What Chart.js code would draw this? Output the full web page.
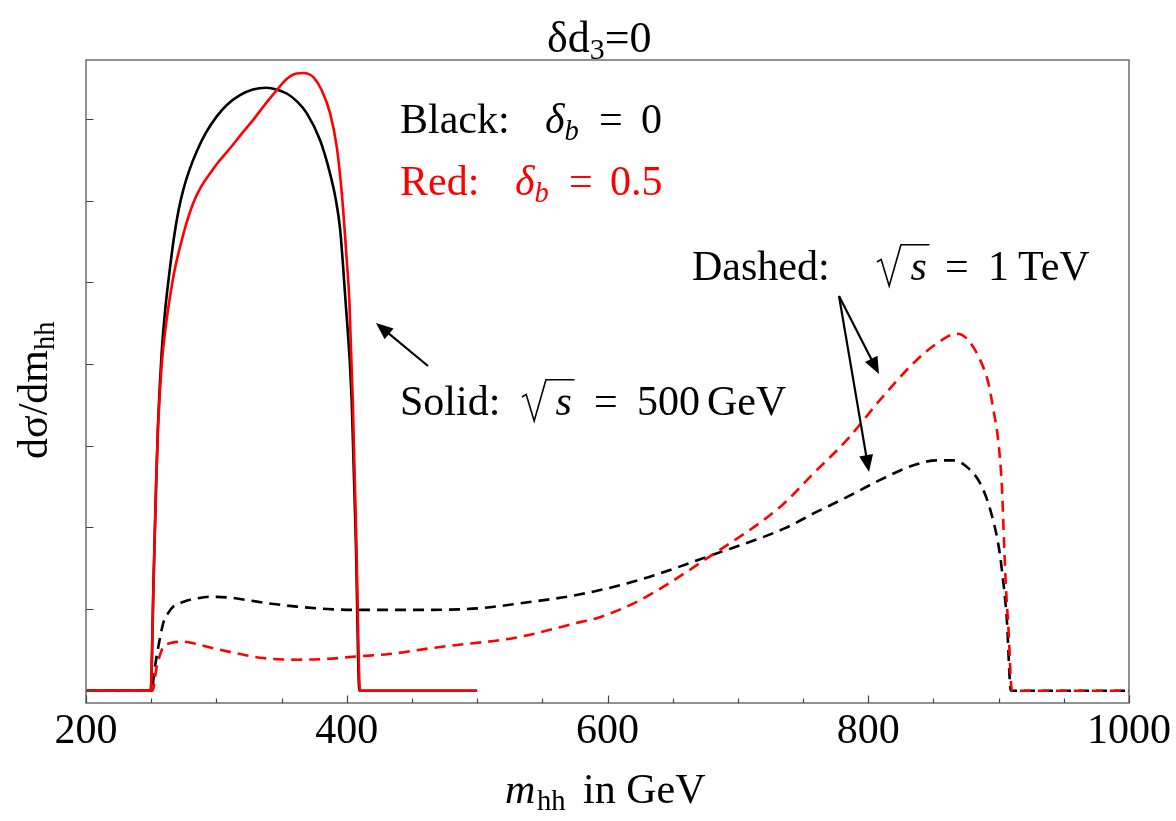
<!DOCTYPE html>
<html>
<head>
<meta charset="utf-8">
<script src="https://cdn.jsdelivr.net/npm/chart.js@4.4.1/dist/chart.umd.min.js"></script>
<style>
  html, body { margin: 0; padding: 0; background: #ffffff; }
  canvas { display: block; }
</style>
</head>
<body>
<canvas id="c" width="1176" height="821"></canvas>
<script>
// m_hh in GeV and dσ/dm_hh (arbitrary units) for each curve

// sqrt(s) = 500 GeV, δb = 0
const blackSolidM = [200, 249.6, 251.8, 253.7, 255.2, 258.1, 261, 264, 267.5, 271, 274.6, 279, 284.9, 292, 300.3, 308, 318.1, 328, 338.6, 346, 354, 362, 369.3, 379.5, 387.2, 391.5, 394.9, 398.7, 403.8, 407, 409.7, 450, 500];
const blackSolidV = [0, 0, 1.35, 2.5, 3.25, 4.15, 4.7, 5.12, 5.55, 5.88, 6.13, 6.36, 6.6, 6.83, 7.03, 7.17, 7.29, 7.36, 7.38, 7.36, 7.31, 7.21, 7.07, 6.74, 6.33, 6.02, 5.65, 4.85, 3.56, 1.8, 0, 0, 0];

// sqrt(s) = 500 GeV, δb = 0.5
const redSolidM = [200, 249.6, 251.8, 253.7, 255.2, 258.1, 261.5, 264.4, 268, 272.1, 277, 282.3, 288, 295.1, 302, 310.5, 319, 328.4, 337, 346.3, 351.5, 356.5, 361.5, 366.7, 370.5, 374.4, 380.8, 387.2, 392.3, 396.2, 400, 402, 404.6, 407.4, 410.2, 450, 500];
const redSolidV = [0, 0, 1.3, 2.45, 3.2, 4.0, 4.5, 4.82, 5.15, 5.43, 5.72, 5.97, 6.16, 6.33, 6.48, 6.64, 6.81, 6.99, 7.17, 7.35, 7.45, 7.52, 7.555, 7.56, 7.55, 7.51, 7.35, 7.07, 6.66, 6.09, 5.27, 4.78, 3.56, 1.8, 0, 0, 0];

// sqrt(s) = 1 TeV, δb = 0
const blackDashedM = [200, 250.4, 252.5, 255.5, 259.3, 263, 267, 275, 284.9, 295.1, 310, 323.3, 340, 361.6, 385, 407.6, 433, 463.9, 502, 533, 579, 625, 680, 736.2, 758, 783.6, 809.1, 834.7, 852.6, 865.4, 875.6, 885.8, 893.5, 899.9, 902.5, 906.3, 909.4, 950, 1000];
const blackDashedV = [0, 0, 0.25, 0.54, 0.83, 0.95, 1.03, 1.09, 1.13, 1.15, 1.14, 1.11, 1.07, 1.03, 1.0, 0.99, 0.99, 0.99, 1.01, 1.07, 1.18, 1.36, 1.66, 1.99, 2.17, 2.37, 2.58, 2.76, 2.82, 2.82, 2.74, 2.54, 2.22, 1.78, 1.48, 0.87, 0, 0, 0];

// sqrt(s) = 1 TeV, δb = 0.5
const redDashedM = [200, 251, 254.2, 257, 259.3, 264, 274.6, 285, 297.7, 315, 336, 361.6, 385, 407.6, 433, 463.9, 479, 517.6, 533, 579, 594, 625, 680, 732.4, 758, 783.6, 809.1, 834.7, 852.6, 867.9, 875.6, 885.8, 892.2, 896, 899.9, 902.5, 904.3, 905.5, 907.6, 910.2, 950, 1000];
const redDashedV = [0, 0, 0.29, 0.45, 0.54, 0.58, 0.6, 0.57, 0.52, 0.46, 0.40, 0.38, 0.39, 0.42, 0.45, 0.52, 0.55, 0.62, 0.66, 0.84, 0.9, 1.11, 1.66, 2.25, 2.66, 3.07, 3.56, 4.01, 4.25, 4.37, 4.31, 4.05, 3.76, 3.44, 3.03, 2.5, 1.76, 1.3, 0.74, 0, 0, 0];

// axis ticks
const xTickValues = [200, 400, 600, 800, 1000];
const yTickValues = [0, 1, 2, 3, 4, 5, 6, 7];

const SERIF = '"Liberation Serif", "Times New Roman", serif';

function pts(ms, vs) { return ms.map((m, i) => ({ x: m, y: vs[i] })); }

function lineSet(ms, vs, color, dashed, offset) {
  return {
    data: pts(ms, vs),
    borderColor: color,
    borderWidth: 2.6,
    borderDash: dashed ? [11, 7] : [],
    borderDashOffset: offset || 0,
    pointRadius: 0,
    fill: false,
    cubicInterpolationMode: 'monotone',
    borderCapStyle: 'butt',
    borderJoinStyle: 'round'
  };
}

// draws a sequence of text runs; each run may be italic, subscripted, or a square root
function drawRuns(ctx, x0, y0, size, runs, color) {
  let x = x0;
  for (const r of runs) {
    if (r.x !== undefined) x = r.x;
    const fs = r.sub ? size * 0.68 : size;
    const dy = r.sub ? size * 0.17 : 0;
    ctx.font = (r.italic ? 'italic ' : '') + fs + 'px ' + SERIF;
    ctx.fillStyle = r.color || color;
    ctx.textBaseline = 'alphabetic';
    ctx.textAlign = 'left';
    if (r.sqrt) {
      const em = size;
      ctx.save();
      ctx.strokeStyle = r.color || color;
      ctx.lineWidth = 1.6;
      ctx.lineJoin = 'miter';
      ctx.beginPath();
      ctx.moveTo(x, y0 - 0.43 * em);
      ctx.lineTo(x + 0.1 * em, y0 - 0.49 * em);
      ctx.lineTo(x + 0.29 * em, y0 + 0.14 * em);
      ctx.lineTo(x + 0.57 * em, y0 - 0.84 * em);
      const sx = x + 0.8 * em;
      const sw = ctx.measureText(r.text).width;
      ctx.lineTo(sx + sw + 0.06 * em, y0 - 0.84 * em);
      ctx.stroke();
      ctx.restore();
      ctx.fillText(r.text, sx, y0);
      x = sx + sw + 0.08 * em;
    } else {
      ctx.fillText(r.text, x, y0 + dy);
      x += ctx.measureText(r.text).width;
    }
  }
  return x;
}

function arrow(ctx, x1, y1, x2, y2) {
  const ang = Math.atan2(y2 - y1, x2 - x1);
  const L = 17, W = 7;
  ctx.save();
  ctx.strokeStyle = '#000';
  ctx.fillStyle = '#000';
  ctx.lineWidth = 2.2;
  ctx.beginPath();
  ctx.moveTo(x1, y1);
  ctx.lineTo(x2 - Math.cos(ang) * L * 0.8, y2 - Math.sin(ang) * L * 0.8);
  ctx.stroke();
  ctx.beginPath();
  ctx.moveTo(x2, y2);
  ctx.lineTo(x2 - Math.cos(ang) * L + Math.sin(ang) * W, y2 - Math.sin(ang) * L - Math.cos(ang) * W);
  ctx.lineTo(x2 - Math.cos(ang) * L - Math.sin(ang) * W, y2 - Math.sin(ang) * L + Math.cos(ang) * W);
  ctx.closePath();
  ctx.fill();
  ctx.restore();
}

const framePlugin = {
  id: 'frameAndTicks',
  afterDatasetsDraw(chart) {
    const ctx = chart.ctx;
    const a = chart.chartArea;
    const xs = chart.scales.x, ys = chart.scales.y;
    ctx.save();
    ctx.strokeStyle = '#6e6e6e';
    ctx.lineWidth = 1.5;
    ctx.strokeRect(a.left, a.top, a.right - a.left, a.bottom - a.top);
    ctx.strokeStyle = '#444';
    ctx.lineWidth = 1.2;
    ctx.beginPath();
    for (const v of yTickValues) {
      const py = Math.round(ys.getPixelForValue(v)) + 0.5;
      ctx.moveTo(a.left, py);
      ctx.lineTo(a.left + 7.5, py);
    }
    for (let m = 200; m <= 1000; m += 50) {
      const px = Math.round(xs.getPixelForValue(m)) + 0.5;
      const len = (m % 200 === 0) ? 7.5 : 4.5;
      ctx.moveTo(px, a.bottom);
      ctx.lineTo(px, a.bottom - len);
    }
    ctx.stroke();
    ctx.restore();
  }
};

const textPlugin = {
  id: 'labelsAndNotes',
  afterDraw(chart) {
    const ctx = chart.ctx;
    ctx.save();
    // title
    drawRuns(ctx, 547, 52, 44, [
      { text: 'δd' }, { text: '3', sub: true }, { text: '=0' }
    ], '#000');

    // x axis title
    drawRuns(ctx, 505, 803, 42, [
      { text: 'm', italic: true }, { text: 'hh', sub: true, x: 537 }, { text: 'in GeV', x: 583 }
    ], '#000');

    // y axis title (rotated)
    ctx.save();
    ctx.translate(47, 459);
    ctx.rotate(-Math.PI / 2);
    drawRuns(ctx, 0, 0, 42, [
      { text: 'dσ/dm' }, { text: 'hh', sub: true }
    ], '#000');
    ctx.restore();

    // legend notes
    drawRuns(ctx, 400, 133, 42, [
      { text: 'Black:' },
      { text: 'δ', italic: true, x: 545 }, { text: 'b', italic: true, sub: true },
      { text: '=', x: 599 }, { text: '0', x: 641 }
    ], '#000');
    drawRuns(ctx, 400, 195, 42, [
      { text: 'Red:' },
      { text: 'δ', italic: true, x: 515 }, { text: 'b', italic: true, sub: true },
      { text: '=', x: 569 }, { text: '0.5', x: 610 }
    ], '#ff0000');
    drawRuns(ctx, 692, 280, 42, [
      { text: 'Dashed:' },
      { text: 's', italic: true, sqrt: true, x: 877 },
      { text: '=', x: 945 }, { text: '1', x: 988 }, { text: 'TeV', x: 1018 }
    ], '#000');
    drawRuns(ctx, 400, 415, 42, [
      { text: 'Solid:' },
      { text: 's', italic: true, sqrt: true, x: 522 },
      { text: '=', x: 594 }, { text: '500', x: 637 }, { text: 'GeV', x: 707 }
    ], '#000');

    // arrows
    arrow(ctx, 428, 366, 376, 323);
    arrow(ctx, 839, 296, 879, 374);
    arrow(ctx, 839, 296, 869, 472);
    ctx.restore();
  }
};

new Chart(document.getElementById('c'), {
  type: 'line',
  data: {
    datasets: [
      lineSet(redSolidM, redSolidV, '#ff0000', false),
      lineSet(blackSolidM, blackSolidV, '#000000', false),
      lineSet(redDashedM, redDashedV, '#ff0000', true, 9),
      lineSet(blackDashedM, blackDashedV, '#000000', true, 0)
    ]
  },
  options: {
    responsive: false,
    animation: false,
    devicePixelRatio: 1,
    layout: { padding: { left: 86, right: 47, top: 60, bottom: 0 } },
    plugins: { legend: { display: false }, tooltip: { enabled: false }, title: { display: false } },
    scales: {
      x: {
        type: 'linear',
        min: 200,
        max: 1000,
        afterBuildTicks: (s) => { s.ticks = xTickValues.map(v => ({ value: v })); },
        afterFit: (s) => { s.height = 118; },
        grid: { display: false, drawTicks: false },
        border: { display: false },
        ticks: {
          autoSkip: false,
          maxRotation: 0,
          padding: 4,
          color: '#000',
          font: { family: SERIF, size: 42 },
          callback: (v) => String(v)
        }
      },
      y: {
        type: 'linear',
        min: -0.15,
        max: 7.72,
        display: false
      }
    }
  },
  plugins: [framePlugin, textPlugin]
});
</script>
</body>
</html>
